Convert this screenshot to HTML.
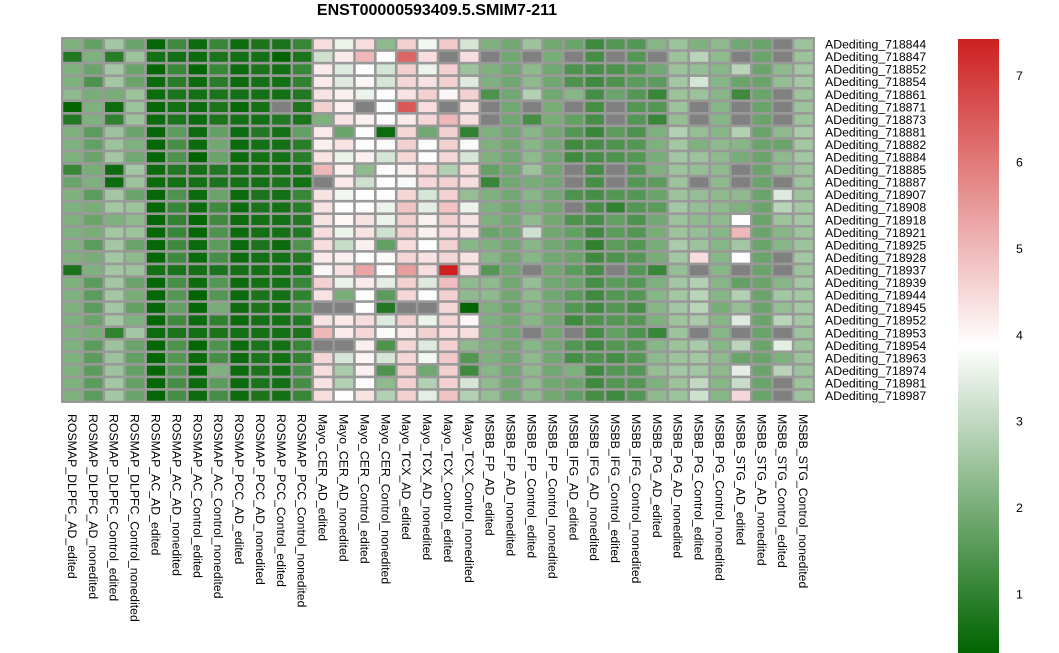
<!DOCTYPE html>
<html><head><meta charset="utf-8"><style>
body{margin:0;background:#fff;}
svg{display:block;font-family:"Liberation Sans",sans-serif;}
</style></head><body>
<svg id="chart" width="1059" height="653" viewBox="0 0 1059 653">
<defs><linearGradient id="lg" x1="0" y1="1" x2="0" y2="0">
<stop offset="0" stop-color="#006400"/><stop offset="0.5" stop-color="#ffffff"/><stop offset="1" stop-color="#cd2020"/></linearGradient></defs>
<text x="437" y="15" text-anchor="middle" font-size="16" font-weight="bold">ENST00000593409.5.SMIM7-211</text>
<rect x="61" y="37" width="754" height="366" fill="#999"/>
<g id="cells"></g><g id="rowlabels"></g><g id="collabels"></g>
<rect x="958" y="39" width="41" height="614" fill="url(#lg)"/>
<g id="legendticks"></g>
</svg>
<script>
const rowNames=["ADediting_718844","ADediting_718847","ADediting_718852","ADediting_718854","ADediting_718861","ADediting_718871","ADediting_718873","ADediting_718881","ADediting_718882","ADediting_718884","ADediting_718885","ADediting_718887","ADediting_718907","ADediting_718908","ADediting_718918","ADediting_718921","ADediting_718925","ADediting_718928","ADediting_718937","ADediting_718939","ADediting_718944","ADediting_718945","ADediting_718952","ADediting_718953","ADediting_718954","ADediting_718963","ADediting_718974","ADediting_718981","ADediting_718987"];
const colNames=["ROSMAP_DLPFC_AD_edited","ROSMAP_DLPFC_AD_nonedited","ROSMAP_DLPFC_Control_edited","ROSMAP_DLPFC_Control_nonedited","ROSMAP_AC_AD_edited","ROSMAP_AC_AD_nonedited","ROSMAP_AC_Control_edited","ROSMAP_AC_Control_nonedited","ROSMAP_PCC_AD_edited","ROSMAP_PCC_AD_nonedited","ROSMAP_PCC_Control_edited","ROSMAP_PCC_Control_nonedited","Mayo_CER_AD_edited","Mayo_CER_AD_nonedited","Mayo_CER_Control_edited","Mayo_CER_Control_nonedited","Mayo_TCX_AD_edited","Mayo_TCX_AD_nonedited","Mayo_TCX_Control_edited","Mayo_TCX_Control_nonedited","MSBB_FP_AD_edited","MSBB_FP_AD_nonedited","MSBB_FP_Control_edited","MSBB_FP_Control_nonedited","MSBB_IFG_AD_edited","MSBB_IFG_AD_nonedited","MSBB_IFG_Control_edited","MSBB_IFG_Control_nonedited","MSBB_PG_AD_edited","MSBB_PG_AD_nonedited","MSBB_PG_Control_edited","MSBB_PG_Control_nonedited","MSBB_STG_AD_edited","MSBB_STG_AD_nonedited","MSBB_STG_Control_edited","MSBB_STG_Control_nonedited"];
const N=null;
const valsRosmap=[
[2.1,1.7,2.6,1.8,0.4,1.2,0.5,1.1,0.5,0.7,0.7,1.1],
[0.8,2.1,0.9,2.5,0.6,0.6,0.5,0.7,0.6,0.6,0.3,0.7],
[2.1,1.8,2.6,1.8,0.4,1.1,0.4,1.1,0.5,0.7,0.6,1.1],
[2.1,1.4,2.6,1.8,0.5,0.9,0.5,0.9,0.5,0.6,0.6,1.0],
[2.3,2.0,2.0,2.5,0.5,0.7,0.6,0.7,0.6,0.6,0.6,0.8],
[0.3,2.1,0.5,2.5,0.4,0.6,0.5,0.7,0.4,0.6,N,0.7],
[0.8,2.1,1.0,2.5,0.5,0.7,0.5,0.7,0.6,0.6,0.8,0.7],
[2.1,1.6,2.5,1.8,0.4,1.6,0.5,1.7,0.5,0.8,0.6,1.7],
[2.1,1.7,2.5,2.1,0.4,1.3,0.5,1.9,0.5,0.6,0.6,0.9],
[2.1,1.8,2.6,1.9,0.4,1.4,0.3,1.8,0.5,0.6,0.6,0.9],
[1.1,2.0,0.5,2.6,0.5,0.8,0.6,0.8,0.6,0.6,0.6,0.7],
[1.8,2.1,0.5,2.5,0.5,0.6,0.6,0.7,0.6,0.6,0.7,0.6],
[2.1,1.6,2.6,1.8,0.4,1.4,0.5,1.8,0.5,0.7,0.6,1.1],
[2.1,2.0,2.6,2.5,0.4,1.1,0.5,1.2,0.5,0.7,0.6,0.9],
[2.1,1.8,2.1,2.3,0.4,1.0,0.4,1.2,0.5,0.6,0.6,0.8],
[2.1,2.0,2.6,2.5,0.4,1.1,0.4,1.4,0.5,0.6,0.6,0.8],
[2.1,1.6,2.6,1.8,0.4,1.2,0.5,1.6,0.5,0.7,0.5,1.4],
[2.1,2.0,2.6,2.3,0.4,1.2,0.5,1.3,0.5,0.6,0.6,0.8],
[0.7,2.1,2.6,2.5,0.6,0.7,0.6,0.7,0.6,0.6,0.6,0.7],
[2.1,1.6,2.6,1.8,0.4,1.3,0.5,1.5,0.5,0.6,0.6,1.1],
[2.1,1.6,2.6,2.0,0.4,1.5,0.3,1.5,0.5,0.7,0.6,1.0],
[2.1,1.6,2.6,1.7,0.4,1.7,0.4,2.0,0.5,0.7,0.6,1.4],
[2.1,1.8,2.6,2.1,0.4,1.2,0.5,1.0,0.5,0.6,0.6,0.8],
[2.1,2.0,1.0,2.6,0.5,0.7,0.6,0.7,0.6,0.6,0.6,0.7],
[2.1,1.6,2.5,1.8,0.4,1.4,0.4,1.4,0.5,0.7,0.6,1.1],
[2.1,1.6,2.5,1.7,0.4,1.5,0.5,1.3,0.5,0.7,0.6,1.0],
[2.1,1.6,2.5,1.7,0.4,1.5,0.4,2.1,0.5,0.7,0.6,1.3],
[2.1,1.6,2.6,1.7,0.4,1.3,0.5,1.6,0.5,0.7,0.6,1.3],
[2.1,1.6,2.6,1.8,0.4,1.3,0.5,1.3,0.5,0.7,0.6,1.1]];
const valsMayoFP=[
[4.4,3.6,4.4,2.3,4.6,3.7,4.7,3.3,2.1,1.9,2.5,1.9],
[3.2,4.2,5.0,3.9,6.3,4.4,N,4.4,N,1.9,N,2.0],
[4.2,3.4,3.9,3.3,4.6,3.6,4.6,2.5,2.1,1.9,2.3,1.9],
[4.2,3.4,4.0,3.3,4.5,4.3,4.6,3.4,2.1,1.9,2.3,1.9],
[4.3,4.1,3.6,3.9,4.3,4.6,4.0,4.6,1.4,1.9,2.8,1.9],
[4.6,4.1,N,3.9,6.5,4.4,N,4.3,N,1.9,N,2.0],
[2.1,4.3,4.1,3.9,4.2,4.5,5.0,4.4,N,1.9,1.3,2.0],
[4.2,1.8,3.9,0.5,4.5,1.9,4.6,1.0,2.1,1.9,2.2,1.9],
[4.1,4.3,3.9,3.8,4.6,3.9,4.6,3.8,2.1,1.9,2.2,1.9],
[4.3,3.6,4.1,3.3,4.5,3.9,4.5,3.3,2.1,1.9,2.3,1.9],
[5.0,4.1,2.3,3.9,4.1,4.5,2.8,4.4,1.7,1.9,2.5,1.9],
[N,4.2,3.2,3.9,3.8,4.5,4.6,4.4,1.1,1.9,2.0,1.9],
[4.3,3.7,3.9,3.9,4.5,3.3,4.6,2.4,2.1,1.9,2.2,1.9],
[4.3,3.9,3.9,3.6,4.8,3.5,4.8,3.6,2.1,1.9,2.1,1.9],
[4.3,4.0,4.3,3.6,4.6,4.1,4.6,4.3,2.1,1.9,2.3,1.9],
[4.4,3.6,4.3,3.2,4.6,4.1,4.4,4.3,1.8,1.9,3.2,1.9],
[4.4,3.1,4.1,1.7,4.4,3.9,4.6,2.2,2.1,1.9,2.2,1.9],
[4.2,4.1,3.9,3.8,4.5,4.3,4.5,4.3,2.2,1.9,2.2,1.9],
[4.0,4.3,5.3,3.9,5.4,4.4,7.4,4.4,1.5,1.9,N,1.9],
[4.6,3.6,4.2,3.5,4.6,3.4,4.9,2.3,2.3,1.9,2.4,1.9],
[4.3,2.0,3.9,1.6,4.5,3.9,4.6,2.3,2.3,1.9,2.3,1.9],
[N,N,3.9,0.8,N,N,4.5,0.3,2.1,1.8,2.2,1.9],
[4.3,4.2,4.4,3.4,4.6,3.6,4.5,4.0,2.1,1.9,2.2,1.9],
[5.0,4.2,4.5,3.8,4.2,4.6,4.4,4.4,2.1,1.9,N,1.9],
[N,N,4.1,1.4,4.5,3.4,4.6,2.3,2.1,1.9,2.2,1.9],
[4.5,3.3,4.0,3.3,4.5,3.7,4.7,1.5,2.1,1.9,2.3,1.9],
[4.4,2.7,4.1,1.4,4.6,1.9,4.6,1.2,2.2,1.9,2.3,1.9],
[4.3,2.8,3.9,2.3,4.6,2.8,4.6,3.3,2.3,1.9,2.3,1.9],
[4.4,3.9,4.3,2.8,4.6,3.5,4.8,2.8,2.4,1.9,2.3,1.9]];
const valsMsbb=[
[1.8,1.2,1.5,1.5,2.2,2.5,2.1,2.3,1.9,1.8,N,2.5],
[N,1.3,N,1.5,N,2.5,2.9,2.3,N,1.8,N,2.5],
[1.4,1.3,1.4,1.5,1.9,2.5,2.4,2.2,2.9,1.8,2.3,2.6],
[1.4,1.2,1.4,1.6,1.6,2.6,3.3,2.2,1.8,1.8,2.4,2.6],
[2.2,1.3,1.8,1.5,1.1,2.5,2.5,2.2,1.2,1.8,N,2.5],
[N,1.3,N,1.5,1.5,2.5,N,2.2,N,1.8,N,2.5],
[1.7,1.3,N,1.5,1.1,2.4,N,2.2,N,1.8,N,2.5],
[1.5,1.1,1.6,1.4,2.1,2.8,2.4,2.2,2.8,1.8,2.3,2.7],
[1.2,1.3,1.4,1.5,2.1,2.6,2.1,2.3,2.2,1.8,1.8,2.6],
[1.2,1.3,1.4,1.5,2.0,2.6,2.5,2.3,2.0,1.8,2.3,2.6],
[N,1.3,N,1.5,2.1,2.5,2.4,2.3,N,1.8,2.3,2.5],
[N,1.3,N,1.5,1.6,2.5,N,2.3,N,1.8,N,2.5],
[1.4,1.3,1.5,1.5,1.8,2.5,2.4,2.3,2.3,1.8,3.4,2.5],
[N,1.3,1.0,1.5,1.6,2.6,2.4,2.3,2.1,1.8,2.9,2.6],
[1.4,1.3,1.7,1.4,1.9,2.5,2.3,2.3,3.9,1.8,2.5,2.6],
[1.7,1.2,1.6,1.5,2.0,2.5,2.4,2.2,5.0,1.8,2.2,2.5],
[1.7,1.0,1.6,1.5,2.0,2.7,2.5,2.2,2.6,1.8,2.2,2.5],
[1.8,1.2,1.4,1.5,2.0,2.6,4.4,2.2,3.9,1.8,N,2.6],
[1.6,1.3,N,1.5,1.1,2.4,N,2.2,N,1.8,N,2.5],
[1.8,1.3,1.6,1.5,2.1,2.6,2.8,2.2,1.7,1.8,2.2,2.6],
[1.6,1.2,1.5,1.5,2.2,2.6,2.9,2.2,2.8,1.8,2.6,2.6],
[1.5,1.2,1.5,1.3,2.2,2.6,2.9,2.0,2.4,1.8,2.4,2.6],
[1.2,1.4,1.5,1.5,2.1,2.5,2.7,2.2,3.4,1.8,2.9,2.6],
[N,1.3,1.7,1.4,1.1,2.5,N,2.2,N,1.8,N,2.5],
[1.5,1.2,1.5,1.5,2.2,2.5,2.7,2.2,2.9,1.8,3.5,2.5],
[1.3,1.4,1.3,1.5,2.3,2.5,2.6,2.3,1.8,1.8,2.1,2.5],
[2.1,1.2,1.5,1.5,2.4,2.6,2.6,2.3,3.5,1.8,2.9,2.5],
[1.8,1.2,1.5,1.5,2.1,2.5,3.0,2.2,3.1,1.8,N,2.5],
[1.7,1.3,1.2,1.5,2.3,2.5,3.2,2.2,4.5,1.8,N,2.5]];
const legendTicks=[1,2,3,4,5,6,7];
const vmin=0.32, vmax=7.42;

const NS="http://www.w3.org/2000/svg";
const gx0=62,gx1=814,gy0=38,gy1=402;
const cw=(gx1-gx0)/colNames.length, rh=(gy1-gy0)/rowNames.length;
function xPos(i){return gx0+i*cw;}
function yPos(j){return gy0+j*rh;}
function lyPos(v){return 653-(v-vmin)/(vmax-vmin)*614;}
function color(v){
  if(v===null)return "#808080";
  const mid=(vmin+vmax)/2;
  let r,g,b;
  if(v<=mid){const t=Math.max(0,(v-vmin)/(mid-vmin));r=255*t;g=100+155*t;b=255*t;}
  else{const t=Math.min(1,(v-mid)/(vmax-mid));r=255-50*t;g=255-223*t;b=255-223*t;}
  return `rgb(${r|0},${g|0},${b|0})`;
}
const cells=document.getElementById('cells');
rowNames.forEach((rn,j)=>{
  const row=valsRosmap[j].concat(valsMayoFP[j],valsMsbb[j]);
  row.forEach((v,i)=>{
    const r=document.createElementNS(NS,'rect');
    r.setAttribute('x',xPos(i)+1.3);r.setAttribute('y',yPos(j)+1.3);
    r.setAttribute('width',cw-2.6);r.setAttribute('height',rh-2.6);
    r.setAttribute('fill',color(v));
    
    
    cells.appendChild(r);
  });
  const t=document.createElementNS(NS,'text');
  t.setAttribute('x',825);t.setAttribute('y',yPos(j)+rh/2+4.3);
  t.setAttribute('font-size','12.3');t.textContent=rn;
  
  
  document.getElementById('rowlabels').appendChild(t);
});
colNames.forEach((cn,i)=>{
  const t=document.createElementNS(NS,'text');
  const x=xPos(i)+cw/2-4.5, y=414;
  t.setAttribute('x',x);t.setAttribute('y',y);
  t.setAttribute('transform',`rotate(90 ${x} ${y})`);
  t.setAttribute('font-size','12.3');t.textContent=cn;
  
  
  document.getElementById('collabels').appendChild(t);
});
legendTicks.forEach(v=>{
  const t=document.createElementNS(NS,'text');
  t.setAttribute('x',1016);t.setAttribute('y',lyPos(v)+4.5);
  t.setAttribute('font-size','12.3');t.textContent=v;
  
  
  document.getElementById('legendticks').appendChild(t);
});
</script>
</body></html>
